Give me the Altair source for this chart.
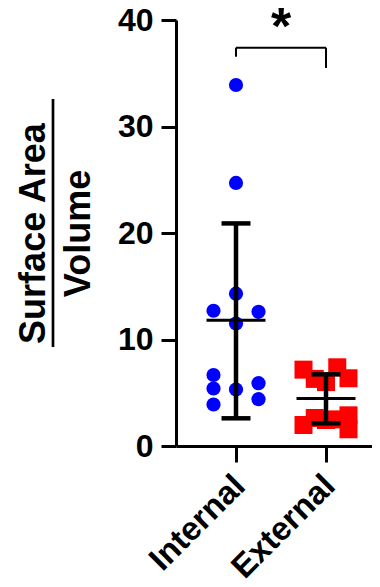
import altair as alt
import pandas as pd

categories = ["Internal", "External"]
internal_values = [33.9, 24.7, 14.3, 12.7, 12.6, 11.5, 6.67, 5.9, 5.4, 5.3, 4.4, 3.9]
internal_jitter = [0, 0, 0, -0.25, 0.25, 0, -0.25, 0.25, -0.25, 0, 0.25, -0.25]
external_values = [7.17, 7.39, 6.36, 6.3, 6.0, 1.97, 2.63, 2.44, 2.5, 2.88, 1.57]
external_jitter = [-0.25, 0.125, 0.25, -0.125, 0, -0.25, -0.125, 0, 0.125, 0.25, 0.25]
means = [11.8, 4.47]
sd_upper = [20.9, 6.73]
sd_lower = [2.6, 2.13]
bracket_top = 37.4
bracket_ends = [36.55, 35.5]
significance = "*"
y_ticks = [0, 10, 20, 30, 40]

FONT = "Liberation Sans"

internal_df = pd.DataFrame({"pos": 1, "jit": internal_jitter, "value": internal_values})
external_df = pd.DataFrame({"pos": 2, "jit": external_jitter, "value": external_values})
summary_df = pd.DataFrame({"pos": [1, 2], "mean": means, "upper": sd_upper, "lower": sd_lower})
bracket_df = pd.DataFrame({"pos": [1, 2], "top": bracket_top, "end": bracket_ends})
star_df = pd.DataFrame({"pos": [1.5], "y": [37.7], "label": [significance]})

label_expr = "datum.value == 1 ? '%s' : '%s'" % (categories[0], categories[1])

x_scale = alt.Scale(domain=[0.3333, 2.5111], nice=False, zero=False)
y_scale = alt.Scale(domain=[0, 40], nice=False)

x_axis = alt.Axis(values=[1, 2], labelExpr=label_expr, title=None, labelAngle=-45,
                  labelFontSize=33, labelFont=FONT, labelFontWeight="bold",
                  labelOffset=-8, labelPadding=7,
                  tickSize=16, tickWidth=3, domainWidth=3, grid=False)
y_axis = alt.Axis(values=y_ticks, title=["Surface Area", "Volume"], titleFont=FONT,
                  titleFontSize=36, titleFontWeight="bold", titleLineHeight=45,
                  titleAngle=270, titleX=-143, titleY=213, titleAlign="center",
                  titleBaseline="middle",
                  labelFontSize=32, labelFont=FONT, labelFontWeight="bold",
                  tickSize=15, tickWidth=3, domainWidth=3, labelPadding=8, grid=False)


def X(field):
    return alt.X(field, type="quantitative", scale=x_scale, axis=x_axis)


def Y(field):
    return alt.Y(field, type="quantitative", scale=y_scale, axis=y_axis)


circles = alt.Chart(internal_df).transform_calculate(xp="datum.pos + datum.jit").mark_circle(
    size=201, color="#0000FF", opacity=1).encode(x=X("xp"), y=Y("value"))
squares = alt.Chart(external_df).transform_calculate(xp="datum.pos + datum.jit").mark_square(
    size=324, color="#FF0000", opacity=1).encode(x=X("xp"), y=Y("value"))

sd_rule = alt.Chart(summary_df).mark_rule(color="black", strokeWidth=4.5).encode(
    x=X("pos"), y=Y("lower"), y2="upper")
cap_hi = alt.Chart(summary_df).mark_tick(color="black", orient="horizontal", size=29,
                                         thickness=4.5, opacity=1).encode(x=X("pos"), y=Y("upper"))
cap_lo = alt.Chart(summary_df).mark_tick(color="black", orient="horizontal", size=29,
                                         thickness=4.5, opacity=1).encode(x=X("pos"), y=Y("lower"))
mean_tick = alt.Chart(summary_df).mark_tick(color="black", orient="horizontal", size=59,
                                            thickness=3, opacity=1).encode(x=X("pos"), y=Y("mean"))

bracket_h = alt.Chart(pd.DataFrame({"a": [1], "b": [2], "top": [bracket_top]})).mark_rule(
    color="black", strokeWidth=2).encode(x=X("a"), x2="b", y=Y("top"))
bracket_v = alt.Chart(bracket_df).mark_rule(color="black", strokeWidth=2).encode(
    x=X("pos"), y=Y("top"), y2="end")
star = alt.Chart(star_df).mark_text(fontSize=52, font=FONT, fontWeight="bold",
                                    baseline="alphabetic", color="black").encode(
    x=X("pos"), y=Y("y"), text="label")

frac_bar = alt.Chart(pd.DataFrame({"k": [0]})).mark_rule(color="black", strokeWidth=2.7).encode(
    x=alt.value(-123), y=alt.value(79), y2=alt.value(327))

chart = alt.layer(circles, squares, sd_rule, cap_hi, cap_lo, mean_tick,
                  bracket_h, bracket_v, star, frac_bar).properties(
    width=196, height=426,
    autosize=alt.AutoSizeParams(type="none"),
    padding={"left": 168, "top": 12, "right": 0, "bottom": 140},
).configure_view(stroke=None).configure_axis(
    domainColor="black", tickColor="black", labelColor="black", titleColor="black")

chart.save("out.html", embed_options={"renderer": "svg", "actions": False})
